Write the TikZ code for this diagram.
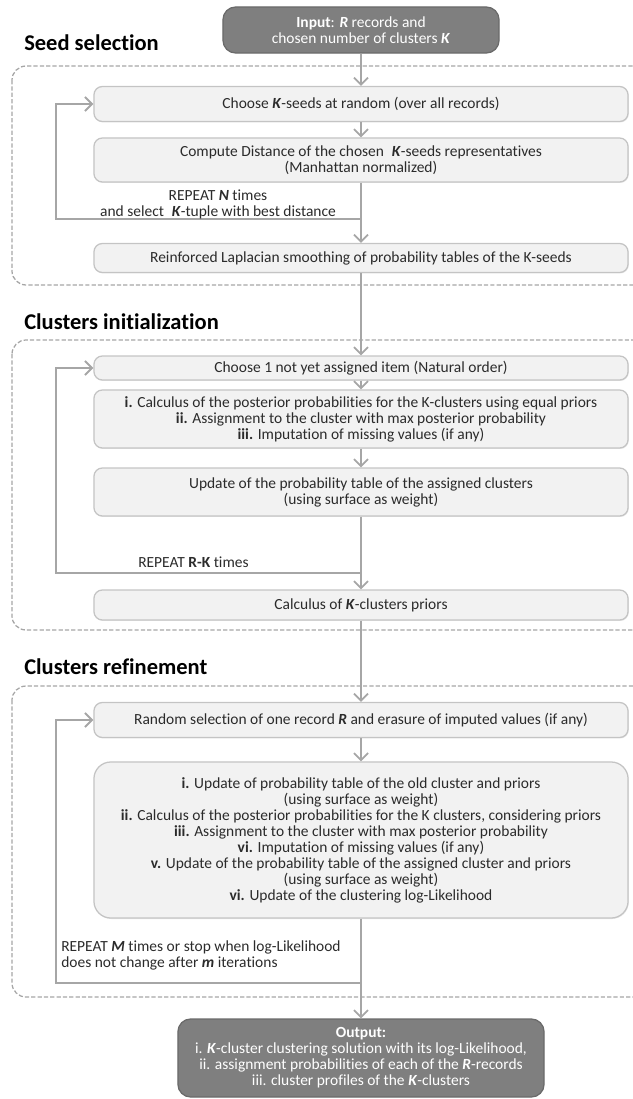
\documentclass[tikz,border=0pt]{standalone}
\usepackage{fontspec}
\setmainfont{Carlito}[Ligatures={TeX,NoCommon}]
\usetikzlibrary{arrows.meta, shadows}

\definecolor{stepfill}{HTML}{F2F2F2}
\definecolor{stepline}{HTML}{C4C4C4}
\definecolor{flowgray}{HTML}{A6A6A6}
\definecolor{iofill}{HTML}{7F7F7F}
\definecolor{ioline}{HTML}{6A6A6A}
\definecolor{textgray}{HTML}{2B2B2B}

\newcommand{\boxtxt}{\fontsize{11}{11.4}\selectfont}
\newcommand{\grouphead}{\fontsize{16}{19}\selectfont\bfseries}
\newcommand{\bi}[1]{\textbf{\textit{#1}}}

\tikzset{
  stepbox/.style={draw=stepline, line width=0.9pt, fill=stepfill,
    rounded corners=6pt, minimum width=13.35cm, align=center,
    font=\boxtxt, text=textgray, inner sep=1pt,
    drop shadow={shadow xshift=0.5pt, shadow yshift=-0.7pt, opacity=0.18}},
  iobox/.style={draw=ioline, line width=0.9pt, fill=iofill,
    rounded corners=9pt, align=center, font=\boxtxt, text=white, inner sep=1pt},
  flowline/.style={draw=flowgray, line width=1.3pt,
    -{Straight Barb[length=5pt,width=10pt]}},
  groupframe/.style={draw=flowgray, line width=0.9pt,
    dash pattern=on 3pt off 1.5pt, rounded corners=10pt},
  grouptitle/.style={font=\grouphead, anchor=base west, inner sep=0pt},
  looplabel/.style={font=\boxtxt, text=textgray, inner sep=0pt},
}

\begin{document}
\begin{tikzpicture}[x=0.025cm, y=-0.025cm]
  \useasboundingbox (0,0) rectangle (632,1099);

  % Group frames (right side runs off the page)
  \draw[groupframe] (12,66) rectangle (670,285);
  \draw[groupframe] (12,340) rectangle (670,630);
  \draw[groupframe] (12,686) rectangle (670,997);

  % Group titles
  \node[grouptitle] (seedtitle) at (24,50) {Seed selection};
  \node[grouptitle] (inittitle) at (24,329) {Clusters initialization};
  \node[grouptitle] (refinetitle) at (24,674) {Clusters refinement};

  % Input
  \node[iobox, minimum width=6.9cm, minimum height=1.15cm] (input) at (361,30)
    {\textbf{Input}: \bi{R} records and\\chosen number of clusters \bi{K}};

  % Seed selection steps
  \node[stepbox, minimum height=0.875cm] (seedpick) at (361,104)
    {Choose \bi{K}-seeds at random (over all records)};
  \node[stepbox, minimum height=1.1cm] (seeddist) at (361,160)
    {Compute Distance of the chosen\enspace\bi{K}-seeds representatives\\(Manhattan normalized)};
  \node[stepbox, minimum height=0.725cm] (seedsmooth) at (361,258)
    {Reinforced Laplacian smoothing of probability tables of the K-seeds};

  % Clusters initialization steps
  \node[stepbox, minimum height=0.6cm] (initpick) at (361,368)
    {Choose 1 not yet assigned item (Natural order)};
  \node[stepbox, minimum height=1.45cm] (initassign) at (361,419)
    {\textbf{i.} Calculus of the posterior probabilities for the K-clusters using equal priors\\
     \textbf{ii.} Assignment to the cluster with max posterior probability\\
     \textbf{iii.} Imputation of missing values (if any)};
  \node[stepbox, minimum height=1.2cm] (initupdate) at (361,492)
    {Update of the probability table of the assigned clusters\\(using surface as weight)};
  \node[stepbox, minimum height=0.75cm] (initpriors) at (361,605)
    {Calculus of \bi{K}-clusters priors};

  % Clusters refinement steps
  \node[stepbox, minimum height=0.875cm] (refpick) at (361,720)
    {Random selection of one record \bi{R} and erasure of imputed values (if any)};
  \node[stepbox, minimum height=3.9cm, rounded corners=12pt] (refupdate) at (361,840)
    {\textbf{i.} Update of probability table of the old cluster and priors\\
     (using surface as weight)\\
     \textbf{ii.} Calculus of the posterior probabilities for the K clusters, considering priors\\
     \textbf{iii.} Assignment to the cluster with max posterior probability\\
     \textbf{vi.} Imputation of missing values (if any)\\
     \textbf{v.} Update of the probability table of the assigned cluster and priors\\
     (using surface as weight)\\
     \textbf{vi.} Update of the clustering log-Likelihood};

  % Output
  \node[iobox, minimum width=9.15cm, minimum height=1.95cm] (output) at (361,1058)
    {\textbf{Output:}\\
     i. \bi{K}-cluster clustering solution with its log-Likelihood,\\
     ii. assignment probabilities of each of the \bi{R}-records\\
     iii. cluster profiles of the \bi{K}-clusters};

  % Main flow
  \draw[flowline] (input) -- (seedpick);
  \draw[flowline] (seedpick) -- (seeddist);
  \draw[flowline] (seeddist) -- (seedsmooth);
  \draw[flowline] (seedsmooth) -- (initpick);
  \draw[flowline] (initpick) -- (initassign);
  \draw[flowline] (initassign) -- (initupdate);
  \draw[flowline] (initupdate) -- (initpriors);
  \draw[flowline] (initpriors) -- (refpick);
  \draw[flowline] (refpick) -- (refupdate);
  \draw[flowline] (refupdate) -- (output);

  % Repeat loops
  \coordinate (seedjoin) at (361,219);
  \coordinate (seedturn) at (56,219);
  \draw[flowline] (seedjoin) -- (seedturn) |- (seedpick.west);
  \node[looplabel, align=center] (seedrepeat) at (218,204)
    {REPEAT \bi{N} times\\and select\enspace\bi{K}-tuple with best distance};

  \coordinate (initjoin) at (361,573);
  \coordinate (initturn) at (56,573);
  \draw[flowline] (initjoin) -- (initturn) |- (initpick.west);
  \node[looplabel, anchor=base west] (initrepeat) at (138,567)
    {REPEAT \textbf{R-K} times};

  \coordinate (refjoin) at (361,983);
  \coordinate (refturn) at (56,983);
  \draw[flowline] (refjoin) -- (refturn) |- (refpick.west);
  \node[looplabel, align=left, anchor=north west] (refrepeat) at (61,940)
    {REPEAT \bi{M} times or stop when log-Likelihood\\does not change after \bi{m} iterations};

\end{tikzpicture}
\end{document}
